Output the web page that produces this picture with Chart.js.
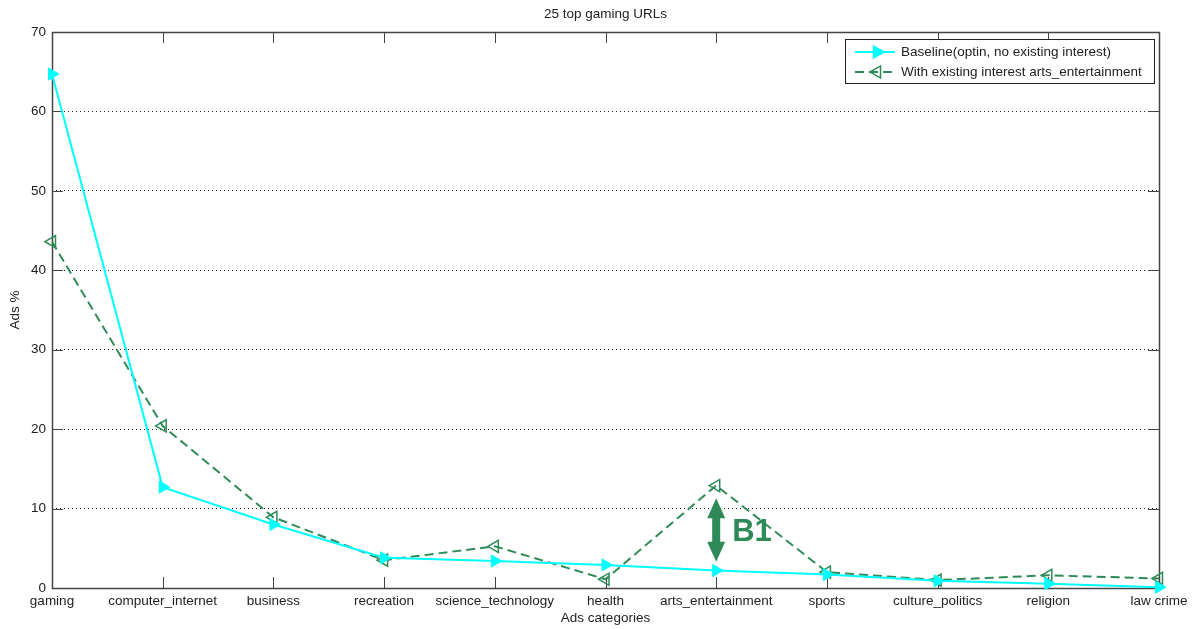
<!DOCTYPE html>
<html>
<head>
<meta charset="utf-8">
<script src="https://cdn.jsdelivr.net/npm/chart.js@4/dist/chart.umd.min.js"></script>
<style>
  html, body { margin: 0; padding: 0; background: #fff; }
  #wrap { width: 1197px; height: 629px; }
</style>
</head>
<body>
<div id="wrap"><canvas id="c" width="1197" height="629"></canvas></div>
<script>
// Ad category shares (%) for the 25 top gaming URLs
const categories = ['gaming', 'computer_internet', 'business', 'recreation', 'science_technology',
  'health', 'arts_entertainment', 'sports', 'culture_politics', 'religion', 'law crime'];
const baseline = [64.7, 12.7, 8.0, 3.8, 3.4, 2.9, 2.2, 1.7, 0.9, 0.55, 0.1];
const withInterest = [43.6, 20.4, 8.9, 3.5, 5.25, 1.1, 12.9, 2.0, 1.0, 1.6, 1.2];
const yTicks = [0, 10, 20, 30, 40, 50, 60, 70];
const seriesNames = ['Baseline(optin, no existing interest)', 'With existing interest arts_entertainment'];

// B1 marker: double arrow spanning the gap at arts_entertainment
const b1Category = 'arts_entertainment';
const b1Span = [3.3, 11.3];

const FONT = '"Liberation Sans", Arial, sans-serif';
const FS = 13.5;
const CYAN = '#00ffff';
const GREEN = '#2e8b57';
const AXIS = '#444';

const frame = {
  id: 'frame',
  beforeDatasetsDraw(chart) {
    const { ctx, chartArea: a, scales: { x, y } } = chart;
    ctx.save();
    ctx.strokeStyle = AXIS;
    ctx.lineWidth = 1;
    // inward tick marks on all four sides
    ctx.beginPath();
    categories.forEach((c, i) => {
      const px = Math.round(x.getPixelForValue(i)) + 0.5;
      ctx.moveTo(px, a.bottom); ctx.lineTo(px, a.bottom - 11);
      ctx.moveTo(px, a.top); ctx.lineTo(px, a.top + 11);
    });
    yTicks.forEach(v => {
      const py = Math.round(y.getPixelForValue(v)) + 0.5;
      ctx.moveTo(a.left, py); ctx.lineTo(a.left + 11, py);
      ctx.moveTo(a.right, py); ctx.lineTo(a.right - 11, py);
    });
    ctx.stroke();
    ctx.lineWidth = 1.5;
    ctx.strokeRect(Math.round(a.left) + 0.5, Math.round(a.top) + 0.5,
      Math.round(a.right - a.left), Math.round(a.bottom - a.top));
    ctx.restore();
  },
  afterDraw(chart) {
    const { ctx, chartArea: a, scales: { x, y } } = chart;
    ctx.save();
    ctx.fillStyle = '#222';
    ctx.font = FS + 'px ' + FONT;
    ctx.textAlign = 'center';
    ctx.textBaseline = 'middle';
    const cx = (a.left + a.right) / 2;
    ctx.fillText('25 top gaming URLs', cx, 14);
    ctx.fillText('Ads categories', cx, 618);
    ctx.save();
    ctx.translate(15, (a.top + a.bottom) / 2);
    ctx.rotate(-Math.PI / 2);
    ctx.fillText('Ads %', 0, 0);
    ctx.restore();

    // legend
    const lx = 845, ly = 39, lw = 309, lh = 44;
    ctx.fillStyle = '#fff';
    ctx.fillRect(lx, ly, lw, lh);
    ctx.strokeStyle = '#222';
    ctx.lineWidth = 1;
    ctx.strokeRect(lx + 0.5, ly + 0.5, lw, lh);
    const rows = [
      { y: 52, color: CYAN, dash: [], fill: true, rot: 90 },
      { y: 72, color: GREEN, dash: [9, 5], fill: false, rot: -90 }
    ];
    rows.forEach((r, i) => {
      ctx.save();
      ctx.strokeStyle = r.color;
      ctx.lineWidth = 2;
      ctx.setLineDash(r.dash);
      ctx.beginPath();
      ctx.moveTo(855, r.y); ctx.lineTo(895, r.y);
      ctx.stroke();
      ctx.setLineDash([]);
      drawTri(ctx, 877, r.y, 7, r.rot, r.color, r.fill);
      ctx.restore();
      ctx.fillStyle = '#222';
      ctx.font = FS + 'px ' + FONT;
      ctx.textAlign = 'left';
      ctx.fillText(seriesNames[i], 901, r.y);
    });

    // B1 annotation
    const bx = x.getPixelForValue(categories.indexOf(b1Category));
    const yTop = y.getPixelForValue(b1Span[1]);
    const yBot = y.getPixelForValue(b1Span[0]);
    ctx.fillStyle = GREEN;
    const head = 20, hw = 9, sw = 4;
    ctx.beginPath();
    ctx.moveTo(bx, yTop);
    ctx.lineTo(bx + hw, yTop + head);
    ctx.lineTo(bx + sw, yTop + head);
    ctx.lineTo(bx + sw, yBot - head);
    ctx.lineTo(bx + hw, yBot - head);
    ctx.lineTo(bx, yBot);
    ctx.lineTo(bx - hw, yBot - head);
    ctx.lineTo(bx - sw, yBot - head);
    ctx.lineTo(bx - sw, yTop + head);
    ctx.lineTo(bx - hw, yTop + head);
    ctx.closePath();
    ctx.fill();
    ctx.font = 'bold 31px ' + FONT;
    ctx.textAlign = 'left';
    ctx.textBaseline = 'middle';
    ctx.fillText('B1', bx + 16, (yTop + yBot) / 2 + 2);
    ctx.restore();
  }
};

function drawTri(ctx, x, y, r, rot, color, fill) {
  ctx.save();
  ctx.translate(x, y);
  ctx.rotate(rot * Math.PI / 180);
  ctx.beginPath();
  ctx.moveTo(0, -r);
  ctx.lineTo(r * 0.866, r * 0.5);
  ctx.lineTo(-r * 0.866, r * 0.5);
  ctx.closePath();
  if (fill) { ctx.fillStyle = color; ctx.fill(); }
  ctx.strokeStyle = color;
  ctx.lineWidth = 1.5;
  ctx.stroke();
  ctx.restore();
}

new Chart(document.getElementById('c'), {
  type: 'line',
  data: {
    labels: categories,
    datasets: [
      {
        label: seriesNames[0],
        data: baseline,
        borderColor: CYAN,
        backgroundColor: CYAN,
        borderWidth: 2,
        pointStyle: 'triangle',
        rotation: 90,
        pointRadius: 7,
        pointBorderWidth: 1,
        tension: 0,
        clip: false
      },
      {
        label: seriesNames[1],
        data: withInterest,
        borderColor: GREEN,
        backgroundColor: 'rgba(0,0,0,0)',
        borderWidth: 2,
        borderDash: [9, 5],
        pointStyle: 'triangle',
        rotation: -90,
        pointRadius: 7,
        pointBorderWidth: 1.5,
        tension: 0,
        clip: false
      }
    ]
  },
  options: {
    responsive: false,
    animation: false,
    layout: { padding: { top: 32, right: 38, left: 0, bottom: 0 } },
    plugins: { legend: { display: false }, tooltip: { enabled: false }, title: { display: false } },
    scales: {
      x: {
        type: 'category',
        offset: false,
        grid: { display: false, drawTicks: false },
        border: { display: false },
        ticks: { color: '#222', font: { family: FONT, size: FS }, padding: 5, maxRotation: 0, autoSkip: false },
        afterFit(s) { s.height = 41; }
      },
      y: {
        min: 0, max: 70,
        grid: {
          drawTicks: false,
          color: ctx => (ctx.tick && (ctx.tick.value === 0 || ctx.tick.value === 70)) ? 'rgba(0,0,0,0)' : '#222',
          lineWidth: 1
        },
        border: { display: false, dash: [1, 3] },
        ticks: { stepSize: 10, color: '#222', font: { family: FONT, size: FS }, padding: 6 },
        afterFit(s) { s.width = 52; }
      }
    }
  },
  plugins: [frame]
});
</script>
</body>
</html>
